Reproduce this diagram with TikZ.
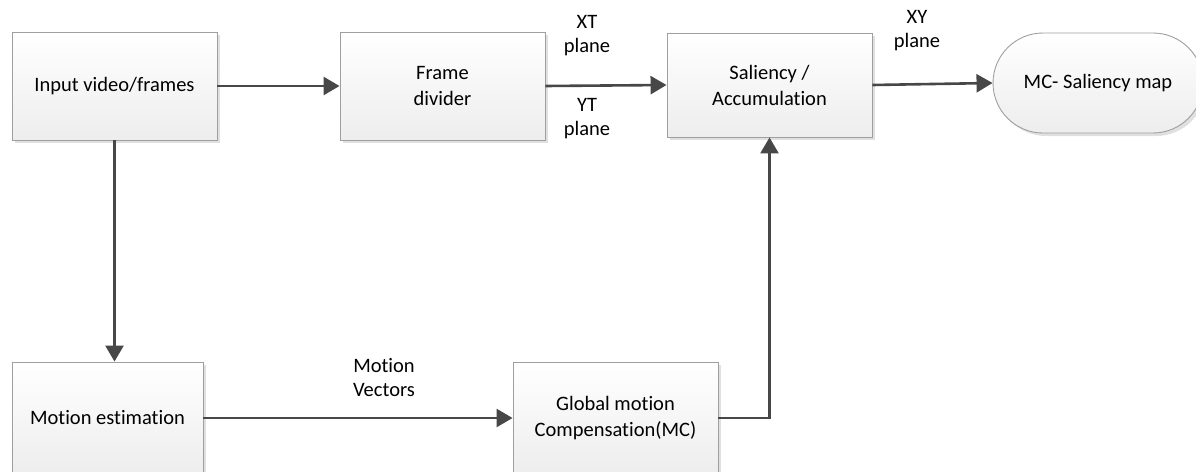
\documentclass[tikz,border=0pt]{standalone}
\usepackage{fontspec}
\setmainfont[Ligatures= NoCommon]{Carlito}
\usetikzlibrary{arrows.meta, shapes.misc, shadows}

\begin{document}
\begin{tikzpicture}[x=1pt, y=-1pt]
\tikzset{BlockStyle/.style = {draw= gray!75, line width= 0.9pt, top color= white, bottom color= gray!14, align= center, inner sep= 0pt, font= \fontsize{20.5}{26}\selectfont, drop shadow= {shadow xshift= 3pt, shadow yshift= -3pt, opacity= 0.35, fill= gray!70}},
         FlowArrow/.style = {-{Triangle[length= 16pt, width= 18pt]}, line width= 2.6pt, draw= black!72},
         LabelStyle/.style = {align= center, inner sep= 0pt, font= \fontsize{20.5}{24}\selectfont}
}

    % page frame
    \useasboundingbox (0,0) rectangle (1196,471);

   \node[BlockStyle, minimum width= 205pt, minimum height= 108pt] (input) at (114.5,86) {Input video/frames};
   \node[BlockStyle, minimum width= 205pt, minimum height= 108pt] (divider) at (442.5,86) {Frame\\divider};
   \node[BlockStyle, minimum width= 205pt, minimum height= 104pt] (saliency) at (769.5,85) {Saliency /\\Accumulation};
   \node[BlockStyle, rounded rectangle, minimum width= 210pt, minimum height= 100pt] (mcmap) at (1098,83) {MC- Saliency map};

   \node[BlockStyle, minimum width= 191pt, minimum height= 112pt] (motion) at (107.5,418) {Motion estimation};
   \node[BlockStyle, minimum width= 205pt, minimum height= 112pt] (gmc) at (615.5,418) {Global motion\\Compensation(MC)};

    % labels
   \node[LabelStyle] (xtlabel) at (587,36) {XT\\plane};
   \node[LabelStyle] (ytlabel) at (587,119) {YT\\plane};
   \node[LabelStyle] (xylabel) at (917,31) {XY\\plane};
   \node[LabelStyle] (mvlabel) at (384,378) {Motion\\Vectors};

    % connectors
   \draw[FlowArrow] (input.east) -- (divider.west);
   \draw[FlowArrow] (divider.east) -- (saliency.west);
   \draw[FlowArrow] (saliency.east) -- (mcmap.west);
   \draw[FlowArrow] (input.south) -- (input.south |- motion.north);
   \draw[FlowArrow] (motion.east) -- (gmc.west);
   \draw[FlowArrow] (gmc.east) -| (saliency.south);
\end{tikzpicture}
\end{document}
